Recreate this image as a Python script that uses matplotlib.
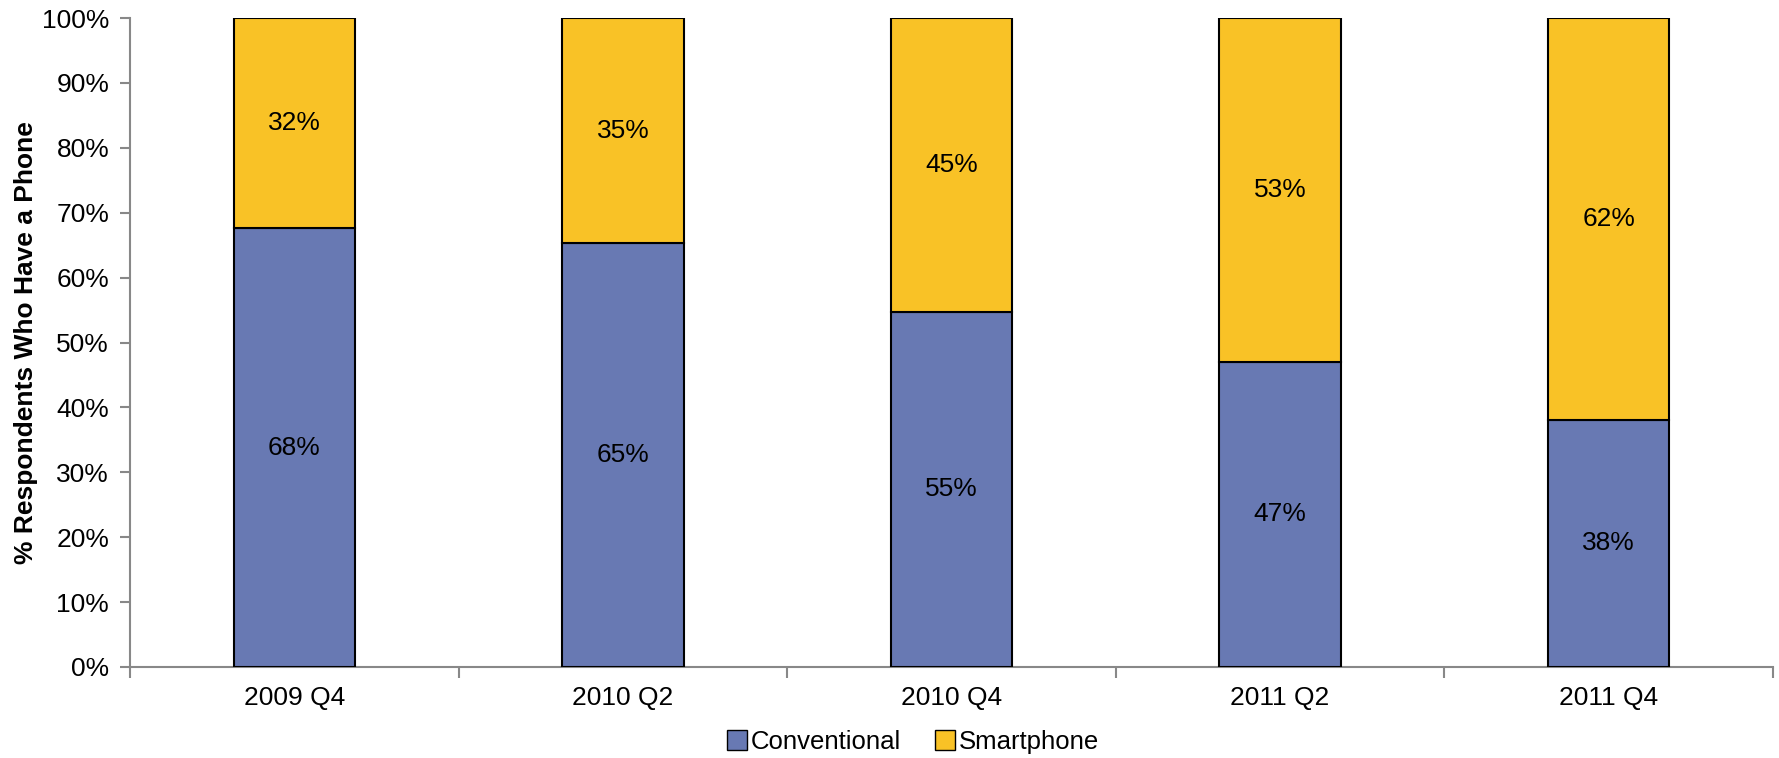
import matplotlib
matplotlib.use("Agg")
import matplotlib.pyplot as plt
import numpy as np
from matplotlib.patches import Patch

categories = ["2009 Q4", "2010 Q2", "2010 Q4", "2011 Q2", "2011 Q4"]
conventional = [67.6, 65.3, 54.7, 47.0, 38.1]
smartphone = [32.4, 34.7, 45.3, 53.0, 61.9]
conv_labels = ["68%", "65%", "55%", "47%", "38%"]
smart_labels = ["32%", "35%", "45%", "53%", "62%"]
yticks = [0, 10, 20, 30, 40, 50, 60, 70, 80, 90, 100]

plt.rcParams['font.family'] = ['Liberation Sans', 'DejaVu Sans']

blue = "#6879B3"
yellow = "#F9C226"
gray = "#888888"
fs = 19

fig = plt.figure(figsize=(17.79, 7.58), dpi=100)
ax = fig.add_axes([130/1779, 1 - 667/758, (1773-130)/1779, (667-18)/758])

x = np.arange(len(categories))
w = 0.37
ax.bar(x, conventional, w, color=blue, edgecolor="black", linewidth=1.5, zorder=3)
ax.bar(x, smartphone, w, bottom=conventional, color=yellow, edgecolor="black", linewidth=1.5, zorder=3)

for i in range(len(categories)):
    ax.text(x[i], conventional[i] / 2, conv_labels[i], ha="center", va="center", fontsize=fs, zorder=4)
    ax.text(x[i], conventional[i] + smartphone[i] / 2, smart_labels[i], ha="center", va="center", fontsize=fs, zorder=4)

ax.set_xlim(-0.5, len(categories) - 0.5)
ax.set_ylim(0, 100)
ax.set_yticks(yticks)
ax.set_yticklabels([f"{v}%" for v in yticks], fontsize=fs)
ax.set_xticks(x)
ax.set_xticklabels(categories, fontsize=fs)
ax.tick_params(axis="x", length=0, pad=14)
ax.set_xticks(np.arange(len(categories) + 1) - 0.5, minor=True)
ax.tick_params(axis="x", which="minor", length=8, color=gray, width=1.5, direction="out")
ax.tick_params(axis="y", length=7, color=gray, width=1.5, direction="out", pad=8)

for s in ["top", "right"]:
    ax.spines[s].set_visible(False)
for s in ["left", "bottom"]:
    ax.spines[s].set_color(gray)
    ax.spines[s].set_linewidth(1.5)

ax.set_ylabel("% Respondents Who Have a Phone", fontsize=fs, fontweight="bold", labelpad=3)

handles = [Patch(facecolor=blue, edgecolor="black", label="Conventional"),
           Patch(facecolor=yellow, edgecolor="black", label="Smartphone")]
fig.legend(handles=handles, loc="center", bbox_to_anchor=(913/1779, 1 - 742/758), ncol=2,
           frameon=False, fontsize=18.5, handlelength=0.78, handleheight=0.78, handletextpad=0.15,
           columnspacing=1.3, borderpad=0)

fig.savefig("out.png", dpi=100)
